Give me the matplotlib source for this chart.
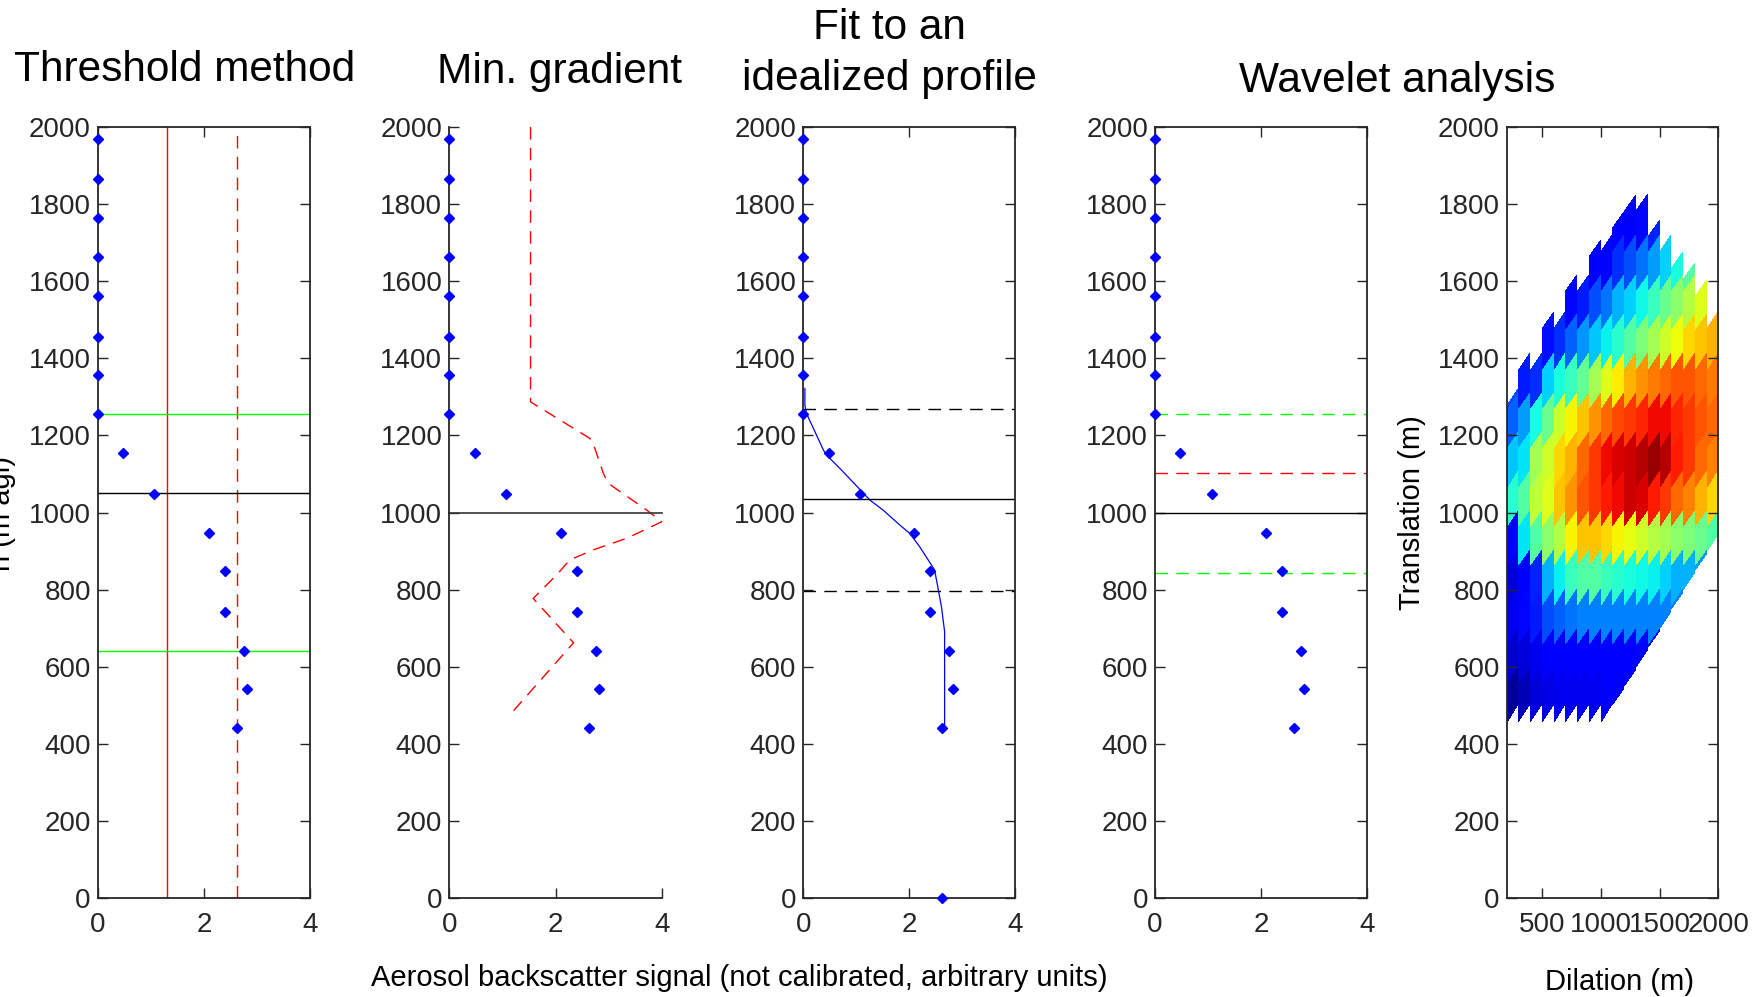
import numpy as np
import matplotlib
matplotlib.use("Agg")
import matplotlib.pyplot as plt

plt.rcParams['font.family'] = ['Liberation Sans', 'DejaVu Sans']

W, H, DPI = 1758, 997, 100

# ---------------- data ----------------
height = [441, 542, 642, 743, 848, 948, 1049, 1155, 1255, 1356, 1456, 1562, 1663, 1763, 1866, 1968]
signal = [2.63, 2.82, 2.76, 2.40, 2.40, 2.10, 1.07, 0.48, 0, 0, 0, 0, 0, 0, 0, 0]
surface_height = [0]
surface_signal = [2.63]

x_ticks = [0, 2, 4]
y_ticks = [0, 200, 400, 600, 800, 1000, 1200, 1400, 1600, 1800, 2000]

# threshold method
thr_value = 1.30
thr_reference = 2.63
thr_upper = 1255
thr_lower = 642
thr_blh = 1050

# min gradient
grad_x = [1.53, 1.53, 2.65, 2.71, 2.90, 2.99, 3.72, 4.00, 3.34, 2.71, 2.27, 2.02, 1.58, 2.34, 1.14]
grad_h = [2000, 1287, 1192, 1179, 1102, 1076, 1006, 976, 933, 903, 877, 838, 777, 662, 475]
grad_blh = 1000

# idealized profile fit
fit_x = [0.03, 0.03, 0.06, 0.38, 0.44, 0.75, 1.26, 1.51, 1.82, 2.01, 2.20, 2.42, 2.48, 2.54, 2.61, 2.67, 2.67]
fit_h = [1322, 1279, 1257, 1162, 1149, 1106, 1032, 1006, 968, 946, 911, 864, 851, 808, 756, 691, 444]
fit_upper = 1268
fit_blh = 1034
fit_lower = 797

# wavelet
wav_upper = 1255
wav_red = 1102
wav_blh = 1000
wav_lower = 844

dilation_edges = [200, 300, 400, 500, 600, 700, 800, 900, 1000, 1100,
                  1200, 1300, 1400, 1500, 1600, 1700, 1800, 1900, 2000]
translation_edges = [455, 557, 659, 761, 863, 965, 1067, 1169, 1271, 1373, 1475, 1577, 1679, 1781]
col_top = [1320, 1413, 1413, 1521, 1521, 1616, 1616, 1707, 1720, 1780,
           1824, 1826, 1759, 1720, 1676, 1647, 1603, 1521]
col_bottom = [457, 457, 457, 457, 457, 457, 457, 457, 457, 500,
              550, 600, 650, 700, 750, 800, 850, 900]
dilation_ticks = [500, 1000, 1500, 2000]
n = np.nan
wct = np.array([
 # j0   j1    j2    j3    j4    j5    j6    j7    j8    j9    j10   j11   j12   j13   j14   j15   j16   j17
 [0.02, 0.05, 0.08, 0.09, 0.10, 0.10, 0.10, 0.10, 0.11, 0.11, 0.12, n,    n,    n,    n,    n,    n,    n   ],
 [0.07, 0.08, 0.10, 0.11, 0.12, 0.12, 0.12, 0.12, 0.12, 0.12, 0.12, 0.13, 0.13, n,    n,    n,    n,    n   ],
 [0.10, 0.13, 0.15, 0.20, 0.22, 0.24, 0.25, 0.25, 0.25, 0.25, 0.25, 0.25, 0.25, 0.25, 0.25, n,    n,    n   ],
 [0.08, 0.12, 0.16, 0.30, 0.36, 0.42, 0.45, 0.45, 0.42, 0.40, 0.38, 0.37, 0.36, 0.33, 0.30, 0.30, 0.28, n   ],
 [0.12, 0.35, 0.45, 0.52, 0.57, 0.65, 0.70, 0.70, 0.68, 0.65, 0.63, 0.60, 0.57, 0.55, 0.52, 0.50, 0.48, 0.45],
 [0.40, 0.45, 0.58, 0.62, 0.70, 0.75, 0.82, 0.85, 0.88, 0.90, 0.93, 0.92, 0.88, 0.85, 0.80, 0.77, 0.72, 0.68],
 [0.32, 0.35, 0.55, 0.60, 0.68, 0.72, 0.80, 0.85, 0.90, 0.92, 0.93, 0.95, 0.98, 0.95, 0.88, 0.85, 0.80, 0.77],
 [0.22, 0.28, 0.38, 0.48, 0.60, 0.65, 0.70, 0.75, 0.80, 0.83, 0.85, 0.87, 0.90, 0.90, 0.87, 0.85, 0.82, 0.80],
 [0.20, 0.15, 0.17, 0.33, 0.38, 0.42, 0.47, 0.55, 0.62, 0.66, 0.72, 0.75, 0.78, 0.80, 0.82, 0.82, 0.80, 0.78],
 [n,    n,    n,    0.14, 0.17, 0.22, 0.27, 0.32, 0.36, 0.40, 0.45, 0.50, 0.55, 0.60, 0.64, 0.68, 0.70, 0.72],
 [n,    n,    n,    0.12, 0.12, 0.13, 0.15, 0.20, 0.24, 0.30, 0.33, 0.37, 0.42, 0.48, 0.52, 0.57, 0.62, 0.68],
 [n,    n,    n,    n,    n,    n,    n,    0.12, 0.13, 0.17, 0.20, 0.24, 0.28, 0.33, 0.38, 0.45, n,    n   ],
 [n,    n,    n,    n,    n,    n,    n,    n,    n,    0.12, 0.12, 0.13, 0.16, n,    n,    n,    n,    n   ],
])
cell_tilt = 45

# ---------------- figure ----------------
fig = plt.figure(figsize=(W / DPI, H / DPI), dpi=DPI)
fig.patch.set_facecolor('white')

def add_px_axes(x0, x1, y0=127, y1=898):
    return fig.add_axes([x0 / W, 1 - y1 / H, (x1 - x0) / W, (y1 - y0) / H])

TC = '#262626'

def style(ax, box=True):
    ax.tick_params(direction='in', length=7, width=1.0, labelsize=20,
                   colors=TC, top=box, right=box)
    ax.tick_params(axis='x', pad=10)
    ax.tick_params(axis='y', pad=5)
    for s in ax.spines.values():
        s.set_linewidth(1.3)
        s.set_color(TC)
    if not box:
        ax.spines['top'].set_visible(False)
        ax.spines['right'].set_visible(False)

def profile_axes(x0, x1, box=True):
    ax = add_px_axes(x0, x1)
    ax.set_xlim(0, 4)
    ax.set_ylim(0, 2000)
    ax.set_xticks(x_ticks)
    ax.set_yticks(y_ticks)
    style(ax, box)
    return ax

MS = 4.8

def points(ax):
    ax.plot(signal, height, linestyle='none', marker='D', ms=MS,
            color='#0000ff', clip_on=False, zorder=5)

DASH = (0, (9, 6))

# Panel 1: threshold
ax1 = profile_axes(97.7, 310)
ax1.axvline(thr_value, color='#ff0000', lw=1.0)
ax1.axvline(thr_reference, color='#ff0000', lw=1.0, ls=DASH)
ax1.axhline(thr_upper, color='#00ff00', lw=1.0)
ax1.axhline(thr_lower, color='#00ff00', lw=1.0)
ax1.axhline(thr_blh, color='k', lw=1.0)
points(ax1)

# Panel 2: min gradient
ax2 = profile_axes(449.3, 661.7, box=False)
ax2.plot(grad_x, grad_h, color='#ff0000', lw=1.0, ls=DASH, clip_on=False)
ax2.plot([0, 4], [grad_blh, grad_blh], color='#333333', lw=1.2, clip_on=False)
points(ax2)

# Panel 3: fit
ax3 = profile_axes(803.3, 1015)
ax3.plot(fit_x, fit_h, color='#0000ff', lw=0.9)
ax3.axhline(fit_upper, color='k', lw=1.0, ls=DASH)
ax3.axhline(fit_blh, color='k', lw=1.0)
ax3.axhline(fit_lower, color='k', lw=1.0, ls=DASH)
points(ax3)
ax3.plot(surface_signal, surface_height, linestyle='none', marker='D', ms=MS,
         color='#0000ff', clip_on=False, zorder=5)

# Panel 4: wavelet profile
ax4 = profile_axes(1155, 1366.7)
ax4.axhline(wav_upper, color='#00ff00', lw=1.0, ls=DASH)
ax4.axhline(wav_red, color='#ff0000', lw=1.0, ls=DASH)
ax4.axhline(wav_blh, color='k', lw=1.0)
ax4.axhline(wav_lower, color='#00ff00', lw=1.0, ls=DASH)
points(ax4)

# Panel 5: wavelet covariance transform
ax5 = add_px_axes(1506.7, 1718.3)
ax5.set_xlim(dilation_edges[0], dilation_edges[-1])
ax5.set_ylim(0, 2000)
ax5.set_xticks(dilation_ticks)
ax5.set_yticks(y_ticks)
style(ax5)
e = np.array(translation_edges, dtype=float)
for j in range(len(dilation_edges) - 1):
    xl, xr = dilation_edges[j], dilation_edges[j + 1]
    yl = np.clip(e, col_bottom[j], col_top[j] - cell_tilt)
    yr = np.clip(e + cell_tilt, col_bottom[j] + cell_tilt, col_top[j])
    X = np.column_stack([np.full_like(e, xl), np.full_like(e, xr)])
    Y = np.column_stack([yl, yr])
    C = np.ma.masked_invalid(wct[:, j:j + 1])
    ax5.pcolormesh(X, Y, C, cmap='jet', vmin=0, vmax=1, shading='flat',
                   linewidth=0, antialiased=False, zorder=1)

# ---------------- text ----------------
def ftext(x, y, s, size, **kw):
    fig.text(x / W, 1 - y / H, s, fontsize=size, ha='center', va='center', color='black', **kw)

ftext(185, 70, 'Threshold method', 30.5)
ftext(560, 72, 'Min. gradient', 30.5)
ftext(889, 28, 'Fit to an', 30.5)
ftext(889, 79, 'idealized profile', 30.5)
ftext(1397, 81, 'Wavelet analysis', 30.5)
ftext(739, 978, 'Aerosol backscatter signal (not calibrated, arbitrary units)', 21)
ftext(1620, 982, 'Dilation (m)', 21)
ftext(2, 513, 'h (m agl)', 21, rotation=90)
ftext(1412, 513, 'Translation (m)', 21, rotation=90)

fig.savefig('out.png', dpi=DPI, facecolor='white')
